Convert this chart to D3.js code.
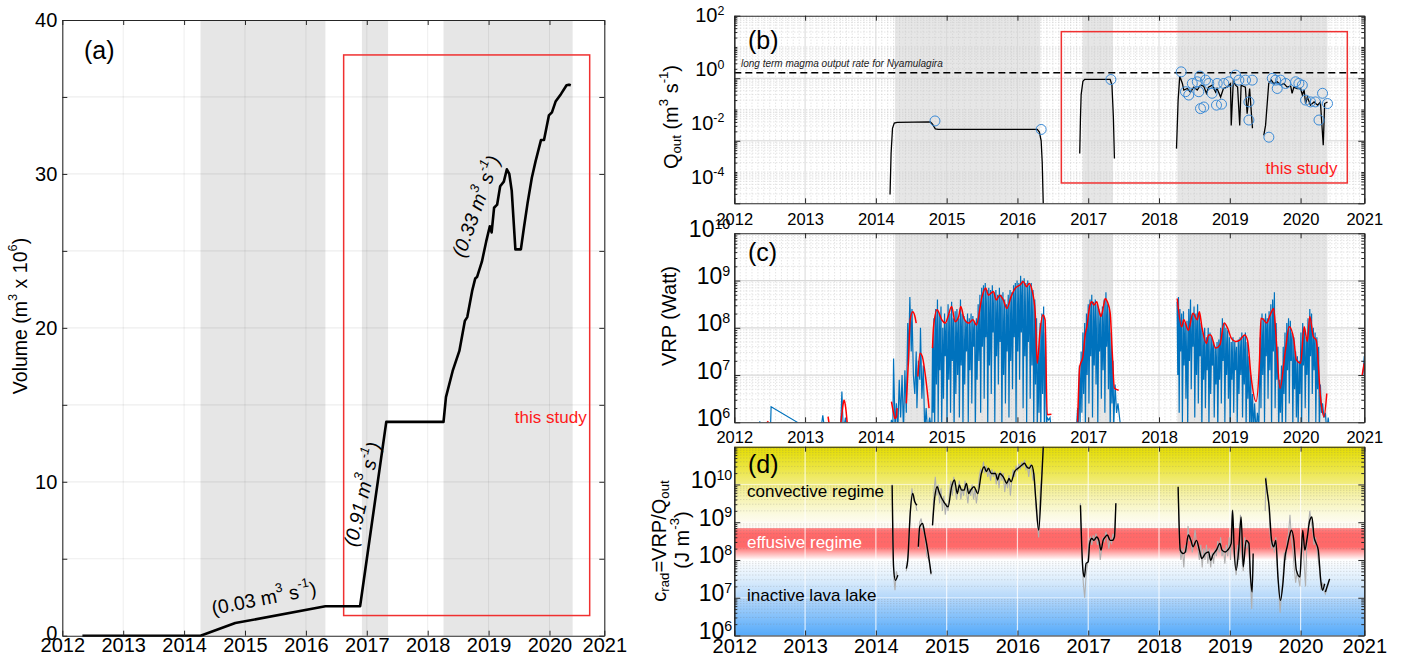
<!DOCTYPE html>
<html><head><meta charset="utf-8">
<script src="https://cdn.jsdelivr.net/npm/d3@7/dist/d3.min.js"></script>
<style>html,body{margin:0;padding:0;background:#fff;}svg{display:block;}</style>
</head><body>
<svg id="chart" width="1402" height="661"></svg>
<script>
// ================= DATA =================
const xDomain = [2012, 2020.9];
const yearTicks = [2012, 2013, 2014, 2015, 2016, 2017, 2018, 2019, 2020, 2020.9];
const yearLabels = ["2012","2013","2014","2015","2016","2017","2018","2019","2020","2021"];
const eruptionPeriods = [[2014.27, 2016.32], [2016.92, 2017.35], [2018.26, 2020.38]];
const studyPeriod = [2016.62, 2020.66];

// (a) cumulative volume (m3 x 10^6)
const volYear = [2012.33,2014.27,2014.84,2016.32,2016.89,2017.32,2018.26,2018.30,2018.41,2018.52,2018.61,2018.65,2018.73,2018.78,2018.81,2018.89,2018.96,2019.02,2019.05,2019.09,2019.14,2019.19,2019.25,2019.30,2019.34,2019.38,2019.44,2019.53,2019.58,2019.64,2019.71,2019.77,2019.86,2019.91,2019.99,2020.04,2020.10,2020.19,2020.28,2020.32,2020.35];
const volValue = [0,0,0.82,1.91,1.91,13.89,13.89,15.5,17.2,18.5,20.45,20.7,22.4,23.2,23.3,24.3,25.6,26.6,26.2,27.8,28.0,29.2,29.5,30.3,30.0,28.9,25.1,25.1,26.5,28.1,29.75,30.8,32.2,32.2,33.8,34.0,34.7,35.2,35.76,35.8,35.76];
const rateValues = ["0.03", "0.91", "0.33"];

// (b) Qout (m3/s): smoothed curve segments [year, Q] and observations
const qLongTerm = 1.5;
const qSmooth = [
  [[2014.20,1.9e-4],[2014.215,4e-3],[2014.235,0.025],[2014.26,0.037],[2014.30,0.039],[2014.77,0.040],[2014.80,0.034],[2014.84,0.024],[2014.88,0.023],[2016.28,0.023],[2016.31,0.019],[2016.335,0.010],[2016.35,0.002],[2016.37,3e-5]],
  [[2016.88,0.0039],[2016.89,0.05],[2016.90,0.3],[2016.925,0.8],[2016.95,0.92],[2017.31,0.92],[2017.335,0.6],[2017.355,0.06],[2017.37,0.0027]],
  [[2018.247,0.0056],[2018.27,0.2],[2018.293,1.17],[2018.33,0.68],[2018.35,0.42],[2018.40,0.47],[2018.445,0.36],[2018.49,0.52],[2018.54,0.42],[2018.585,0.60],[2018.63,0.56],[2018.67,0.33],[2018.70,0.52],[2018.75,0.60],[2018.80,0.36],[2018.82,0.47],[2018.87,0.25],[2018.91,0.47],[2018.96,0.52],[2019.01,0.68],[2019.02,0.031],[2019.05,0.87],[2019.08,0.60],[2019.11,0.52],[2019.14,0.031],[2019.16,0.60],[2019.22,0.52],[2019.245,0.074],[2019.28,0.47],[2019.32,0.025]],
  [[2019.48,0.015],[2019.505,0.031],[2019.55,0.68],[2019.585,0.87],[2019.62,0.68],[2019.67,0.77],[2019.72,0.60],[2019.765,0.68],[2019.81,0.52],[2019.86,0.56],[2019.88,0.33],[2019.905,0.52],[2019.95,0.47],[2020.0,0.47],[2020.025,0.29],[2020.05,0.42],[2020.07,0.155],[2020.095,0.25],[2020.14,0.138],[2020.19,0.174],[2020.24,0.138],[2020.28,0.174],[2020.32,0.0072],[2020.34,0.155],[2020.38,0.174]]
];
const qObsYear = [2014.835,2016.335,2017.32,2018.313,2018.374,2018.42,2018.47,2018.54,2018.576,2018.562,2018.586,2018.633,2018.657,2018.703,2018.75,2018.822,2018.812,2018.883,2018.915,2018.986,2019.081,2019.128,2019.222,2019.27,2019.27,2019.317,2019.552,2019.60,2019.647,2019.67,2019.717,2019.788,2019.93,2019.976,2020.024,2020.07,2020.14,2020.21,2020.26,2020.31,2020.38];
const qObsValue = [0.043,0.023,0.91,1.60,0.37,0.29,0.68,0.77,1.17,0.37,0.107,0.12,0.87,0.68,0.33,0.68,0.138,0.148,0.68,0.77,1.26,0.87,0.87,0.175,0.046,0.87,0.013,0.99,0.87,0.47,0.87,0.68,0.77,0.68,0.60,0.20,0.175,0.175,0.046,0.33,0.155];
const qTickExponents = [2, 0, -2, -4];

// (c) VRP (log10 Watt): raw (blue) and smoothed (red) segments [year, log10 VRP]
const vrpRaw = [
  [[2012.35,5.8],[2012.36,6.02],[2012.37,5.8]],
  [[2012.51,5.8],[2012.52,6.33],[2012.89,6.0],[2012.9,5.8]],
  [[2013.22,5.8],[2013.25,6.15],[2013.28,5.8]],
  [[2013.50,5.8],[2013.52,6.65],[2013.54,5.8],[2013.57,6.1],[2013.6,5.8]],
  [[2014.20,5.8],[2014.22,6.05],[2014.24,5.9],[2014.25,7.35],[2014.27,5.9],[2014.29,6.4],[2014.31,5.8],[2014.33,6.9],[2014.35,6.1],[2014.37,7.0],[2014.39,5.8],[2014.41,7.1],[2014.43,6.2],[2014.45,8.1],[2014.46,7.2],[2014.48,8.65],[2014.50,7.5],[2014.51,8.4],[2014.53,7.0],[2014.55,6.6],[2014.57,7.5],[2014.58,6.3],[2014.60,7.3],[2014.62,6.9],[2014.63,8.0],[2014.65,6.5],[2014.67,7.2],[2014.69,5.8],[2014.71,6.3],[2014.73,5.8],[2014.76,6.1],[2014.79,5.8],
   [2014.80,7.6],[2014.81,6.2],[2014.82,8.2],[2014.83,5.8],[2014.845,8.4],[2014.855,6.8],[2014.87,8.6],[2014.88,6.0],[2014.895,8.3],[2014.905,7.1],[2014.92,8.45],[2014.93,5.9],[2014.945,8.0],[2014.955,6.5],[2014.97,8.3],[2014.98,7.4],[2014.995,8.1],[2015.005,5.8],[2015.02,8.5],[2015.03,6.9],[2015.045,8.3],[2015.055,6.2],[2015.07,8.55],[2015.08,7.3],[2015.095,8.2],[2015.105,5.8],[2015.12,8.35],[2015.13,6.6],[2015.145,8.4],[2015.155,7.0],[2015.17,8.2],[2015.18,6.1],[2015.195,8.6],[2015.205,7.2],[2015.22,8.3],[2015.23,5.9],[2015.245,8.25],[2015.255,6.8],[2015.27,8.15],[2015.28,7.5],[2015.295,8.3],[2015.305,6.0],[2015.32,8.2],[2015.33,7.1],[2015.345,8.3],[2015.355,6.4],[2015.37,8.25],[2015.38,7.6],[2015.395,8.1],[2015.405,5.8],[2015.42,8.2],[2015.43,6.9],[2015.445,8.5],[2015.455,7.3],[2015.47,8.7],[2015.48,6.2],[2015.495,8.85],[2015.505,7.6],[2015.52,8.9],[2015.53,6.5],[2015.545,8.95],[2015.555,7.8],[2015.57,8.8],[2015.58,5.9],[2015.595,8.85],[2015.605,7.2],[2015.62,8.8],[2015.63,6.6],[2015.645,8.9],[2015.655,7.9],[2015.67,8.75],[2015.68,6.0],[2015.695,8.8],[2015.705,7.4],[2015.72,8.7],[2015.73,6.8],[2015.745,8.85],[2015.755,7.7],[2015.77,8.7],[2015.78,5.8],[2015.795,8.75],[2015.805,7.0],[2015.82,8.6],[2015.83,6.4],[2015.845,8.5],[2015.855,7.5],[2015.87,8.7],[2015.88,6.1],[2015.895,8.8],[2015.905,7.3],[2015.92,8.75],[2015.93,6.7],[2015.945,8.9],[2015.955,7.8],[2015.97,8.95],[2015.98,6.0],[2015.995,9.0],[2016.005,7.5],[2016.02,8.95],[2016.03,6.9],[2016.045,9.1],[2016.055,7.9],[2016.07,9.0],[2016.08,6.3],[2016.095,9.05],[2016.105,7.4],[2016.12,8.95],[2016.13,5.9],[2016.145,9.0],[2016.155,7.7],[2016.17,8.9],[2016.18,6.5],[2016.195,8.95],[2016.205,7.2],[2016.22,8.8],[2016.23,5.8],[2016.245,8.6],[2016.255,6.8],[2016.27,8.2],[2016.28,5.8],[2016.295,7.4],[2016.305,6.2],[2016.32,8.1],[2016.33,5.8],[2016.345,8.3],[2016.355,6.6],[2016.37,8.45],[2016.38,5.8],[2016.395,7.9],[2016.41,5.8],[2016.42,6.1],[2016.44,6.05],[2016.46,6.1],[2016.48,5.8]],
  [[2016.83,5.8],[2016.85,6.3],[2016.86,5.8],[2016.875,7.2],[2016.885,6.0],[2016.9,7.5],[2016.91,6.2],[2016.925,7.9],[2016.935,6.6],[2016.95,8.1],[2016.96,5.9],[2016.975,8.3],[2016.985,7.0],[2017.0,8.5],[2017.01,6.4],[2017.025,8.6],[2017.035,7.4],[2017.05,8.7],[2017.06,6.1],[2017.075,8.55],[2017.085,7.2],[2017.1,8.6],[2017.11,6.8],[2017.125,8.5],[2017.135,5.9],[2017.15,8.4],[2017.16,7.5],[2017.175,8.3],[2017.185,6.5],[2017.2,8.45],[2017.21,7.1],[2017.225,8.6],[2017.235,6.2],[2017.25,8.75],[2017.26,7.6],[2017.275,8.5],[2017.285,6.7],[2017.3,8.4],[2017.31,5.8],[2017.325,7.9],[2017.335,6.4],[2017.35,7.3],[2017.36,5.9],[2017.38,6.8],[2017.4,6.2],[2017.42,6.4],[2017.45,6.0],[2017.47,5.8]],
  [[2018.255,8.55],[2018.265,7.0],[2018.275,8.65],[2018.285,6.2],[2018.295,8.4],[2018.305,7.5],[2018.32,8.3],[2018.33,6.0],[2018.345,8.35],[2018.355,7.2],[2018.37,8.1],[2018.38,6.5],[2018.395,8.15],[2018.405,5.9],[2018.42,8.4],[2018.43,7.3],[2018.445,8.6],[2018.455,6.7],[2018.47,8.3],[2018.48,7.6],[2018.495,8.45],[2018.505,6.1],[2018.52,8.3],[2018.53,7.0],[2018.545,8.5],[2018.555,6.4],[2018.57,8.3],[2018.58,7.4],[2018.595,8.1],[2018.605,5.8],[2018.62,7.9],[2018.63,6.9],[2018.645,8.0],[2018.655,6.3],[2018.67,7.8],[2018.68,7.1],[2018.695,8.0],[2018.705,5.9],[2018.72,7.9],[2018.73,6.6],[2018.745,7.8],[2018.755,7.2],[2018.77,7.7],[2018.78,6.1],[2018.795,7.6],[2018.805,6.8],[2018.82,7.7],[2018.83,5.8],[2018.845,7.75],[2018.855,6.9],[2018.87,8.0],[2018.88,6.4],[2018.895,8.2],[2018.905,7.3],[2018.92,8.1],[2018.93,6.0],[2018.945,8.0],[2018.955,7.0],[2018.97,7.95],[2018.98,6.5],[2018.995,7.8],[2019.005,5.8],[2019.02,7.7],[2019.03,6.9],[2019.045,7.8],[2019.055,6.2],[2019.07,7.7],[2019.08,7.1],[2019.095,7.6],[2019.105,5.9],[2019.12,7.75],[2019.13,6.6],[2019.145,7.8],[2019.155,7.0],[2019.17,7.9],[2019.18,6.1],[2019.195,7.85],[2019.205,6.8],[2019.22,7.9],[2019.23,5.8],[2019.245,7.7],[2019.255,6.5],[2019.27,7.4],[2019.28,5.9],[2019.295,7.0],[2019.305,5.8],[2019.32,6.6],[2019.335,5.8],[2019.35,6.4],[2019.37,5.8],[2019.39,6.2],[2019.41,5.9],[2019.43,7.8],[2019.44,6.3],[2019.455,8.3],[2019.465,7.0],[2019.48,8.2],[2019.49,6.0],[2019.505,8.3],[2019.515,7.4],[2019.53,8.2],[2019.54,6.5],[2019.555,8.35],[2019.565,7.1],[2019.58,8.5],[2019.59,5.9],[2019.605,8.6],[2019.615,7.5],[2019.63,8.75],[2019.64,6.3],[2019.655,8.1],[2019.665,6.9],[2019.68,7.6],[2019.69,5.8],[2019.705,6.9],[2019.715,6.2],[2019.73,7.2],[2019.74,5.8],[2019.755,7.6],[2019.765,6.6],[2019.78,7.9],[2019.79,6.0],[2019.805,8.1],[2019.815,7.1],[2019.83,8.2],[2019.84,6.4],[2019.855,8.15],[2019.865,7.3],[2019.88,7.9],[2019.89,5.9],[2019.905,7.8],[2019.915,6.7],[2019.93,7.5],[2019.94,6.1],[2019.955,7.4],[2019.965,5.8],[2019.98,7.3],[2019.99,6.6],[2020.005,7.9],[2020.015,6.0],[2020.03,8.1],[2020.04,7.2],[2020.055,8.0],[2020.065,6.3],[2020.08,7.8],[2020.09,7.0],[2020.105,8.2],[2020.115,5.9],[2020.13,8.4],[2020.14,7.4],[2020.155,8.3],[2020.165,6.6],[2020.18,8.0],[2020.19,7.1],[2020.205,7.9],[2020.215,6.0],[2020.23,7.8],[2020.24,6.7],[2020.255,7.6],[2020.265,5.8],[2020.28,6.8],[2020.295,6.2],[2020.31,6.4],[2020.33,6.1],[2020.35,6.2],[2020.37,5.8],[2020.39,6.1],[2020.41,5.8]],
  [[2020.88,7.0],[2020.9,7.4]]
];
const vrpSmooth = [
  [[2012.44,5.95],[2012.48,6.02]],
  [[2013.325,6.12],[2013.34,5.95]],
  [[2013.50,5.9],[2013.53,6.3],[2013.55,6.47],[2013.57,6.35],[2013.6,5.9]],
  [[2014.22,6.44],[2014.25,6.2],[2014.27,6.08],[2014.29,6.12],[2014.30,6.3]],
  [[2014.43,6.40],[2014.46,7.3],[2014.485,8.17],[2014.52,8.34],[2014.55,8.25],[2014.57,8.10]],
  [[2014.593,6.97],[2014.624,7.46],[2014.656,7.39],[2014.707,6.90],[2014.751,6.30]],
  [[2014.80,7.57],[2014.815,8.02],[2014.865,8.38],[2014.93,8.17],[2014.98,8.10],[2015.02,8.24],[2015.07,8.45],[2015.12,8.13],[2015.17,8.24],[2015.20,8.45],[2015.245,8.20],[2015.31,8.10],[2015.37,8.17],[2015.42,8.06],[2015.50,8.66],[2015.55,8.84],[2015.59,8.69],[2015.66,8.77],[2015.70,8.59],[2015.75,8.69],[2015.80,8.59],[2015.85,8.41],[2015.91,8.66],[2015.97,8.84],[2016.04,8.91],[2016.08,8.98],[2016.13,8.87],[2016.165,8.94],[2016.21,8.77],[2016.25,8.34],[2016.28,7.25],[2016.32,7.95],[2016.36,8.27],[2016.39,8.17],[2016.42,6.16],[2016.48,6.17]],
  [[2016.85,6.01],[2016.88,7.18],[2016.925,7.39],[2016.96,7.88],[2016.98,8.02],[2017.02,8.45],[2017.05,8.55],[2017.08,8.48],[2017.12,8.55],[2017.15,8.38],[2017.18,8.24],[2017.21,8.41],[2017.24,8.62],[2017.27,8.55],[2017.31,8.31],[2017.34,7.46],[2017.37,6.72],[2017.43,6.68]],
  [[2018.257,8.62],[2018.32,8.02],[2018.35,8.17],[2018.415,7.95],[2018.48,8.31],[2018.54,8.17],[2018.57,8.34],[2018.605,8.02],[2018.67,7.67],[2018.70,7.85],[2018.73,7.85],[2018.80,7.57],[2018.86,7.64],[2018.92,8.10],[2018.97,7.99],[2019.02,7.78],[2019.08,7.71],[2019.14,7.74],[2019.21,7.85],[2019.25,7.74],[2019.30,6.97],[2019.37,6.44],[2019.42,7.32],[2019.44,8.20],[2019.48,8.17],[2019.52,8.10],[2019.57,8.27],[2019.62,8.41],[2019.65,7.88],[2019.71,6.72],[2019.78,7.46],[2019.84,8.02],[2019.905,7.74],[2019.94,7.32],[2020.00,7.25],[2020.05,8.02],[2020.095,7.71],[2020.13,8.24],[2020.18,7.81],[2020.22,7.74],[2020.285,6.47],[2020.33,6.12],[2020.37,6.61]],
  [[2020.87,7.0],[2020.9,7.25]]
];

// (d) c_rad = VRP/Qout (log10 J m-3): raw (grey) and smoothed (black) segments
const cradRaw = [
  [[2014.23,10.0],[2014.25,7.6],[2014.27,7.2],[2014.29,7.7],[2014.31,7.55]],
  [[2014.43,7.7],[2014.46,8.2],[2014.49,9.4],[2014.51,9.9],[2014.53,9.6],[2014.56,9.5],[2014.58,9.3]],
  [[2014.60,8.3],[2014.62,9.0],[2014.64,9.1],[2014.66,8.8],[2014.69,8.7],[2014.72,8.1],[2014.75,8.0],[2014.78,7.6]],
  [[2014.80,8.9],[2014.82,9.8],[2014.84,10.2],[2014.86,9.7],[2014.88,10.0],[2014.90,9.5],[2014.92,9.9],[2014.94,9.3],[2014.96,9.7],[2014.98,9.2],[2015.00,9.5],[2015.02,9.3],[2015.04,9.8],[2015.06,10.1],[2015.08,9.7],[2015.10,10.2],[2015.12,9.9],[2015.14,9.6],[2015.16,9.9],[2015.18,10.1],[2015.20,9.6],[2015.22,9.9],[2015.24,9.7],[2015.26,10.1],[2015.28,9.8],[2015.30,9.5],[2015.32,9.9],[2015.34,9.7],[2015.36,10.0],[2015.38,9.6],[2015.40,9.9],[2015.42,9.5],[2015.44,9.8],[2015.46,10.2],[2015.48,10.4],[2015.50,10.3],[2015.52,10.6],[2015.54,10.3],[2015.56,10.5],[2015.58,10.2],[2015.60,10.4],[2015.62,10.1],[2015.64,10.4],[2015.66,10.2],[2015.68,10.35],[2015.70,10.0],[2015.72,10.3],[2015.74,9.9],[2015.76,10.35],[2015.78,10.1],[2015.80,10.3],[2015.82,9.8],[2015.84,10.1],[2015.86,9.9],[2015.88,10.25],[2015.90,9.7],[2015.92,10.1],[2015.94,10.4],[2015.96,10.2],[2015.98,10.5],[2016.00,10.35],[2016.02,10.55],[2016.04,10.4],[2016.06,10.6],[2016.08,10.45],[2016.10,10.65],[2016.12,10.4],[2016.14,10.5],[2016.16,10.2],[2016.18,10.55],[2016.20,10.4],[2016.22,10.1],[2016.24,10.3],[2016.26,9.4],[2016.28,9.0],[2016.30,8.6],[2016.32,9.8],[2016.34,10.2],[2016.37,11.2]],
  [[2016.89,9.5],[2016.91,8.3],[2016.93,7.4],[2016.95,7.0],[2016.97,7.6],[2016.99,7.9],[2017.01,8.5],[2017.03,8.6],[2017.05,8.4],[2017.07,8.65],[2017.09,8.5],[2017.11,8.7],[2017.13,8.4],[2017.15,8.55],[2017.17,8.0],[2017.19,8.3],[2017.21,8.6],[2017.23,8.5],[2017.25,8.75],[2017.27,8.6],[2017.29,8.3],[2017.31,8.55],[2017.33,8.45],[2017.35,8.7],[2017.37,8.55],[2017.39,9.5]],
  [[2018.27,9.9],[2018.29,8.4],[2018.31,8.0],[2018.33,8.3],[2018.35,7.8],[2018.37,8.4],[2018.39,8.2],[2018.41,8.9],[2018.43,8.5],[2018.45,8.6],[2018.47,8.2],[2018.49,8.5],[2018.51,8.8],[2018.53,8.4],[2018.55,8.3],[2018.57,8.0],[2018.59,8.4],[2018.61,7.8],[2018.63,8.3],[2018.65,8.0],[2018.67,8.4],[2018.69,7.9],[2018.71,8.3],[2018.73,7.8],[2018.75,8.2],[2018.77,7.9],[2018.79,8.3],[2018.81,8.1],[2018.83,8.5],[2018.85,8.2],[2018.87,8.6],[2018.89,8.1],[2018.91,8.3],[2018.93,7.9],[2018.95,8.4],[2018.97,8.1],[2018.99,8.6],[2019.01,8.0],[2019.03,9.3],[2019.05,8.3],[2019.07,7.9],[2019.09,7.6],[2019.11,8.4],[2019.13,8.0],[2019.15,9.2],[2019.17,8.1],[2019.19,7.7],[2019.21,8.6],[2019.23,8.3],[2019.25,8.5],[2019.27,8.2],[2019.29,7.5],[2019.31,6.7],[2019.33,8.0]],
  [[2019.50,9.3],[2019.51,10.2],[2019.53,9.8],[2019.55,9.5],[2019.57,8.7],[2019.59,8.3],[2019.61,8.5],[2019.63,8.2],[2019.65,8.6],[2019.67,7.9],[2019.69,7.3],[2019.71,6.6],[2019.73,7.1],[2019.75,7.5],[2019.77,8.2],[2019.79,8.0],[2019.81,8.5],[2019.83,8.7],[2019.85,9.2],[2019.87,8.6],[2019.89,8.3],[2019.91,7.8],[2019.93,7.4],[2019.95,7.7],[2019.97,7.5],[2019.99,7.3],[2020.01,8.3],[2020.03,8.6],[2020.05,7.9],[2020.07,7.3],[2020.09,8.5],[2020.11,8.9],[2020.13,9.3],[2020.15,9.0],[2020.17,8.8],[2020.19,8.4],[2020.21,8.6],[2020.23,8.3],[2020.25,8.0],[2020.27,7.7],[2020.29,7.2],[2020.31,7.4],[2020.33,7.2],[2020.35,7.1],[2020.38,7.3],[2020.41,7.5]]
];
const cradSmooth = [
  [[2014.23,9.98],[2014.25,7.82],[2014.275,7.46],[2014.31,7.6]],
  [[2014.43,7.77],[2014.45,7.99],[2014.485,9.23],[2014.52,9.76],[2014.55,9.54],[2014.58,9.45]],
  [[2014.60,8.35],[2014.62,8.88],[2014.66,8.97],[2014.69,8.70],[2014.74,8.17],[2014.78,7.64]],
  [[2014.80,8.92],[2014.83,9.63],[2014.865,9.94],[2014.90,9.76],[2014.96,9.54],[2015.02,9.41],[2015.07,9.94],[2015.11,10.12],[2015.15,9.76],[2015.18,9.98],[2015.21,9.85],[2015.245,9.85],[2015.28,10.03],[2015.31,9.76],[2015.34,9.85],[2015.385,9.94],[2015.44,9.76],[2015.49,10.29],[2015.53,10.47],[2015.56,10.34],[2015.59,10.43],[2015.63,10.29],[2015.69,10.29],[2015.72,10.12],[2015.75,10.29],[2015.80,10.20],[2015.85,10.03],[2015.88,10.16],[2015.91,10.07],[2015.96,10.34],[2016.01,10.43],[2016.06,10.51],[2016.10,10.56],[2016.13,10.47],[2016.165,10.43],[2016.20,10.51],[2016.23,10.29],[2016.26,9.59],[2016.30,8.79],[2016.34,10.03],[2016.37,11.2]],
  [[2016.89,9.45],[2016.925,7.73],[2016.945,7.55],[2016.97,7.91],[2017.00,7.95],[2017.02,8.44],[2017.05,8.57],[2017.08,8.52],[2017.12,8.61],[2017.15,8.52],[2017.18,8.26],[2017.21,8.52],[2017.24,8.61],[2017.27,8.66],[2017.31,8.52],[2017.34,8.52],[2017.37,8.61],[2017.39,9.50]],
  [[2018.27,9.94],[2018.30,8.26],[2018.34,8.17],[2018.37,8.21],[2018.415,8.66],[2018.45,8.52],[2018.48,8.35],[2018.53,8.52],[2018.57,8.26],[2018.605,8.04],[2018.655,8.17],[2018.70,8.21],[2018.73,7.99],[2018.76,8.13],[2018.81,8.26],[2018.86,8.44],[2018.89,8.26],[2018.935,8.21],[2018.97,8.26],[2019.02,8.44],[2019.04,9.32],[2019.06,8.35],[2019.09,7.73],[2019.125,8.26],[2019.16,9.14],[2019.19,7.82],[2019.23,8.52],[2019.27,8.44],[2019.29,7.64],[2019.315,7.15],[2019.33,8.17]],
  [[2019.505,10.16],[2019.525,9.85],[2019.556,9.41],[2019.59,8.52],[2019.62,8.35],[2019.65,8.52],[2019.68,7.55],[2019.715,6.93],[2019.75,7.37],[2019.78,8.08],[2019.81,8.35],[2019.84,8.61],[2019.87,8.79],[2019.905,8.52],[2019.94,7.73],[2019.99,7.55],[2020.01,8.17],[2020.03,8.79],[2020.06,8.26],[2020.095,8.61],[2020.13,9.05],[2020.16,9.14],[2020.19,8.61],[2020.22,8.44],[2020.25,8.26],[2020.285,7.46],[2020.31,7.20],[2020.34,7.37]],
  [[2020.35,7.15],[2020.41,7.50]]
];
const regimeLabels = ["convective regime", "effusive regime", "inactive lava lake"];

// ================= DRAWING =================
const FONT = '"Liberation Sans", Arial, Helvetica, sans-serif';
const AXC = "#262626";
const svg = d3.select("#chart").attr("font-family", FONT);
const defs = svg.append("defs");

function rich(sel, parts, fs, supScale, supRise) {
  const ss = supScale || 0.66, sr = supRise || 0.4;
  let shift = 0;
  parts.forEach(([s, m]) => {
    const target = m === 1 ? -sr * fs : (m === -1 ? 0.25 * fs : 0);
    sel.append("tspan").attr("dy", target - shift).attr("font-size", m ? ss * fs : fs).text(s);
    shift = target;
  });
}
function clip(id, x, y) {
  defs.append("clipPath").attr("id", id).append("rect")
    .attr("x", x.range()[0]).attr("y", y.range()[1])
    .attr("width", x.range()[1] - x.range()[0]).attr("height", y.range()[0] - y.range()[1]);
  return `url(#${id})`;
}
function logMinor(lo, hi) { const o = []; for (let e = lo; e < hi; e++) for (let k = 2; k <= 9; k++) o.push(k * Math.pow(10, e)); return o; }
function styleAxis(g) { g.selectAll("path.domain").attr("stroke", AXC).attr("stroke-width", 1.1); g.selectAll(".tick line").attr("stroke", AXC); }

function xAxes(g, x, y, fs, pad) {
  const b = g.append("g").attr("transform", `translate(0,${y.range()[0]})`)
    .call(d3.axisBottom(x).tickValues(yearTicks).tickFormat((d, i) => yearLabels[i]).tickSizeInner(-5).tickSizeOuter(0).tickPadding(pad));
  b.selectAll("text").attr("font-size", fs).attr("fill", "#000").attr("font-family", FONT);
  styleAxis(b);
  const t = g.append("g").attr("transform", `translate(0,${y.range()[1]})`)
    .call(d3.axisTop(x).tickValues(yearTicks).tickFormat("").tickSizeInner(-5).tickSizeOuter(0));
  styleAxis(t);
}
// log axes; labelY optional function giving label centre (else the tick position + offset)
function logYAxes(g, x, y, labeled, minor, fs, pad, labelY, off) {
  const [x0, x1] = x.range();
  [[d3.axisLeft, x0], [d3.axisRight, x1]].forEach(([f, xp], side) => {
    const m = g.append("g").attr("transform", `translate(${xp},0)`).call(f(y).tickValues(minor).tickFormat("").tickSizeInner(-3).tickSizeOuter(0));
    styleAxis(m);
    const a = g.append("g").attr("transform", `translate(${xp},0)`).call(f(y).tickValues(labeled).tickSizeInner(-6).tickSizeOuter(0).tickPadding(pad).tickFormat(side === 0 ? (d => d) : ""));
    styleAxis(a);
    if (side === 0) {
      a.selectAll("text").each(function (d) {
        const t = d3.select(this); t.text("");
        t.attr("fill", "#000").attr("font-family", FONT).attr("dy", 0.36 * fs);
        t.attr("y", labelY ? labelY(d) - y(d) : (off || 0));
        rich(t, [["10", 0], [String(Math.round(Math.log10(d))), 1]], fs, 0.62, 0.36);
      });
    }
  });
}
function shading(g, x, y) {
  g.selectAll(null).data(eruptionPeriods).join("rect")
    .attr("x", d => x(d[0])).attr("width", d => x(d[1]) - x(d[0]))
    .attr("y", y.range()[1]).attr("height", y.range()[0] - y.range()[1]).attr("fill", "#e6e6e6");
}
function minorXGrid(g, x, y, color) {
  const months = d3.range(2012 + 1 / 12, 2020.9, 1 / 12).filter(v => Math.abs(v - Math.round(v)) > 0.01);
  g.selectAll(null).data(months).join("line").attr("x1", d => x(d)).attr("x2", d => x(d))
    .attr("y1", y.range()[1]).attr("y2", y.range()[0]).attr("stroke", color).attr("stroke-width", 0.7).attr("stroke-dasharray", "1,2");
}
function hGrid(g, x, y, vals, color, dash, w) {
  g.selectAll(null).data(vals).join("line").attr("x1", x.range()[0]).attr("x2", x.range()[1])
    .attr("y1", d => y(d)).attr("y2", d => y(d)).attr("stroke", color).attr("stroke-width", w).attr("stroke-dasharray", dash);
}
function vGrid(g, x, y, vals, color, w) {
  g.selectAll(null).data(vals).join("line").attr("x1", d => x(d)).attr("x2", d => x(d))
    .attr("y1", y.range()[1]).attr("y2", y.range()[0]).attr("stroke", color).attr("stroke-width", w);
}
function panelLabel(g, txt, x, y) {
  g.append("text").attr("x", x).attr("y", y).attr("font-size", 25).attr("dominant-baseline", "central").text(txt);
}
const interiorYears = [2013, 2014, 2015, 2016, 2017, 2018, 2019, 2020];

// ---------- Panel (a) ----------
{
  const x = d3.scaleLinear().domain(xDomain).range([62.3, 604.3]);
  const y = d3.scaleLinear().domain([0, 40]).range([635.7, 20]);
  const g = svg.append("g");
  shading(g, x, y);
  vGrid(g, x, y, interiorYears, "rgba(0,0,0,0.07)", 1);
  hGrid(g, x, y, [5, 10, 15, 20, 25, 30, 35], "rgba(0,0,0,0.07)", null, 1.2);
  g.append("rect").attr("x", x(studyPeriod[0])).attr("y", y(37.73)).attr("width", x(studyPeriod[1]) - x(studyPeriod[0]))
    .attr("height", y(1.31) - y(37.73)).attr("fill", "none").attr("stroke", "#f03030").attr("stroke-width", 1.5);
  g.append("text").attr("x", x(studyPeriod[1]) - 3).attr("y", y(14.16)).attr("text-anchor", "end").attr("dominant-baseline", "central")
    .attr("font-size", 17).attr("fill", "#ff1a1a").text("this study");
  const line = d3.line().x((d, i) => x(volYear[i])).y(d => y(d));
  g.append("path").attr("d", line(volValue)).attr("fill", "none").attr("stroke", "#000").attr("stroke-width", 2.6).attr("stroke-linejoin", "round");
  const ann = [[2015.31, 2.45, -11, "normal"], [2016.92, 9.2, -77, "italic"], [2018.79, 27.9, -70, "italic"]];
  ann.forEach((a, i) => {
    const t = g.append("text").attr("transform", `translate(${x(a[0])},${y(a[1])}) rotate(${a[2]})`)
      .attr("text-anchor", "middle").attr("dominant-baseline", "central").attr("font-style", a[3]);
    rich(t, [["(" + rateValues[i] + " m", 0], ["3", 1], [" s", 0], ["-1", 1], [")", 0]], 19.5);
  });
  xAxes(g, x, y, 20, 2);
  const ya = g.append("g").attr("transform", `translate(${x.range()[0]},0)`)
    .call(d3.axisLeft(y).tickValues([0, 5, 10, 15, 20, 25, 30, 35, 40]).tickFormat(d => d % 10 === 0 ? d : "").tickSizeInner(-5).tickSizeOuter(0).tickPadding(5));
  ya.selectAll("text").attr("font-size", 20).attr("fill", "#000").attr("font-family", FONT).attr("y", d => d === 0 ? -3 : 0);
  styleAxis(ya);
  const yr = g.append("g").attr("transform", `translate(${x.range()[1]},0)`)
    .call(d3.axisRight(y).tickValues([0, 5, 10, 15, 20, 25, 30, 35, 40]).tickFormat("").tickSizeInner(-5).tickSizeOuter(0));
  styleAxis(yr);
  panelLabel(g, "(a)", 84, 50);
  const yl = g.append("text").attr("transform", `translate(20,${316}) rotate(-90)`).attr("text-anchor", "middle").attr("dominant-baseline", "central");
  rich(yl, [["Volume (m", 0], ["3", 1], [" x 10", 0], ["6", 1], [")", 0]], 19.5);
}

// ---------- Panel (b) ----------
{
  const x = d3.scaleLinear().domain(xDomain).range([734.3, 1364.3]);
  const y = d3.scaleLog().domain([1e-4, 1e2]).range([203.3, 15.7]);
  const labelPos = d3.scaleLinear().domain([qTickExponents[0], qTickExponents[3]]).range([21.5, 183]);
  const g = svg.append("g");
  shading(g, x, y);
  minorXGrid(g, x, y, "#c8c8c8");
  hGrid(g, x, y, logMinor(-4, 2).concat([1e-3, 1e-1, 1e1]), "#c8c8c8", "1,2", 0.7);
  vGrid(g, x, y, interiorYears, "#d8d8d8", 1);
  hGrid(g, x, y, [1e-2, 1], "#d8d8d8", null, 1.2);
  g.append("line").attr("x1", x.range()[0]).attr("x2", x.range()[1]).attr("y1", y(qLongTerm)).attr("y2", y(qLongTerm))
    .attr("stroke", "#000").attr("stroke-width", 1.6).attr("stroke-dasharray", "7,4");
  g.append("text").attr("x", 741).attr("y", y(qLongTerm) - 6).attr("font-size", 10).attr("font-style", "italic").attr("fill", "#222")
    .text("long term magma output rate for Nyamulagira");
  g.append("rect").attr("x", x(studyPeriod[0])).attr("y", y(Math.pow(10, 1.49))).attr("width", x(studyPeriod[1]) - x(studyPeriod[0]))
    .attr("height", y(Math.pow(10, -3.35)) - y(Math.pow(10, 1.49))).attr("fill", "none").attr("stroke", "#f03030").attr("stroke-width", 1.5);
  g.append("text").attr("x", x(2020.52)).attr("y", y(Math.pow(10, -2.89))).attr("text-anchor", "end").attr("dominant-baseline", "central")
    .attr("font-size", 17).attr("fill", "#ff1a1a").text("this study");
  const cp = clip("clipB", x, y);
  const dg = g.append("g").attr("clip-path", cp);
  const line = d3.line().x(d => x(d[0])).y(d => y(d[1]));
  dg.selectAll(null).data(qSmooth).join("path").attr("d", line).attr("fill", "none").attr("stroke", "#000").attr("stroke-width", 1.3);
  dg.selectAll(null).data(qObsValue).join("circle").attr("cx", (d, i) => x(qObsYear[i])).attr("cy", d => y(d)).attr("r", 5)
    .attr("fill", "none").attr("stroke", "#3a8ad6").attr("stroke-width", 1);
  xAxes(g, x, y, 16.5, 9.5);
  logYAxes(g, x, y, qTickExponents.map(e => Math.pow(10, e)), logMinor(-4, 2).concat([1e-3, 1e-1, 1e1]), 20, 10,
    d => labelPos(Math.log10(d)));
  panelLabel(g, "(b)", 748, 40);
  const yl = g.append("text").attr("transform", `translate(671,117) rotate(-90)`).attr("text-anchor", "middle").attr("dominant-baseline", "central");
  rich(yl, [["Q", 0], ["out", -1], [" (m", 0], ["3", 1], [" s", 0], ["-1", 1], [")", 0]], 20);
}

// ---------- Panel (c) ----------
{
  const x = d3.scaleLinear().domain(xDomain).range([734.3, 1364.3]);
  const y = d3.scaleLog().domain([1e6, 1e10]).range([422.3, 233.3]);
  const g = svg.append("g");
  shading(g, x, y);
  minorXGrid(g, x, y, "#c8c8c8");
  hGrid(g, x, y, logMinor(6, 10), "#c8c8c8", "1,2", 0.7);
  vGrid(g, x, y, interiorYears, "#d8d8d8", 1);
  hGrid(g, x, y, [1e7, 1e8, 1e9], "#d8d8d8", null, 1.2);
  const cp = clip("clipC", x, y);
  const dg = g.append("g").attr("clip-path", cp);
  const line = d3.line().x(d => x(d[0])).y(d => y(Math.pow(10, d[1])));
  dg.selectAll(null).data(vrpRaw).join("path").attr("d", line).attr("fill", "none").attr("stroke", "#0072BD").attr("stroke-width", 1.2);
  dg.selectAll(null).data(vrpSmooth).join("path").attr("d", line.curve(d3.curveMonotoneX)).attr("fill", "none").attr("stroke", "#ff0000").attr("stroke-width", 1.5);
  xAxes(g, x, y, 16.5, 9);
  logYAxes(g, x, y, [1e6, 1e7, 1e8, 1e9, 1e10], logMinor(6, 10), 23, 4, null, 3);
  panelLabel(g, "(c)", 748, 252);
  g.append("text").attr("transform", `translate(669,316) rotate(-90)`).attr("text-anchor", "middle").attr("dominant-baseline", "central")
    .attr("font-size", 20).text("VRP (Watt)");
}

// ---------- Panel (d) ----------
{
  const x = d3.scaleLinear().domain(xDomain).range([734.3, 1364.3]);
  const y = d3.scaleLog().domain([1e6, 1e11]).range([635.5, 446.7]);
  const g = svg.append("g");
  const top = y.range()[1], bot = y.range()[0];
  const stops = [[11, "rgb(228,220,0)"], [10.4, "rgb(236,230,70)"], [9.8, "rgb(244,240,160)"], [9.2, "rgb(251,250,225)"], [8.86, "rgb(255,252,248)"],
    [8.83, "rgb(255,130,130)"], [8.7, "rgb(255,105,105)"], [8.35, "rgb(255,105,105)"], [8.15, "rgb(255,190,190)"], [8.0, "rgb(255,255,255)"],
    [7.5, "rgb(222,238,252)"], [7.0, "rgb(180,215,250)"], [6.0, "rgb(85,170,250)"]];
  const grad = defs.append("linearGradient").attr("id", "regimeGrad").attr("gradientUnits", "userSpaceOnUse")
    .attr("x1", 0).attr("x2", 0).attr("y1", top).attr("y2", bot);
  stops.forEach(s => grad.append("stop").attr("offset", (y(Math.pow(10, s[0])) - top) / (bot - top)).attr("stop-color", s[1]));
  g.append("rect").attr("x", x.range()[0]).attr("y", top).attr("width", x.range()[1] - x.range()[0]).attr("height", bot - top).attr("fill", "url(#regimeGrad)");
  hGrid(g, x, y, logMinor(6, 11), "rgba(120,120,120,0.45)", "1,2", 0.7);
  vGrid(g, x, y, interiorYears, "rgba(255,255,255,0.75)", 1.2);
  hGrid(g, x, y, [1e7, 1e8, 1e9, 1e10], "rgba(255,255,255,0.6)", null, 1);
  const lab = [[9.81, "#000"], [8.45, "#fff"], [7.07, "#000"]];
  regimeLabels.forEach((t, i) => g.append("text").attr("x", 747).attr("y", y(Math.pow(10, lab[i][0]))).attr("dominant-baseline", "central")
    .attr("font-size", 17).attr("fill", lab[i][1]).text(t));
  const cp = clip("clipD", x, y);
  const dg = g.append("g").attr("clip-path", cp);
  const line = d3.line().x(d => x(d[0])).y(d => y(Math.pow(10, d[1])));
  dg.selectAll(null).data(cradRaw).join("path").attr("d", line).attr("fill", "none").attr("stroke", "#b0b0b0").attr("stroke-width", 1.1);
  dg.selectAll(null).data(cradSmooth).join("path").attr("d", line.curve(d3.curveMonotoneX)).attr("fill", "none").attr("stroke", "#000").attr("stroke-width", 1.4);
  xAxes(g, x, y, 20, 3);
  logYAxes(g, x, y, [1e6, 1e7, 1e8, 1e9, 1e10], logMinor(6, 11), 23, 2, null, 3);
  panelLabel(g, "(d)", 748, 464);
  const l1 = g.append("text").attr("transform", `translate(659,541) rotate(-90)`).attr("text-anchor", "middle").attr("dominant-baseline", "central");
  rich(l1, [["c", 0], ["rad", -1], ["=VRP/Q", 0], ["out", -1]], 20);
  const l2 = g.append("text").attr("transform", `translate(682,540) rotate(-90)`).attr("text-anchor", "middle").attr("dominant-baseline", "central");
  rich(l2, [["(J m", 0], ["-3", 1], [")", 0]], 20);
}
</script>
</body></html>
